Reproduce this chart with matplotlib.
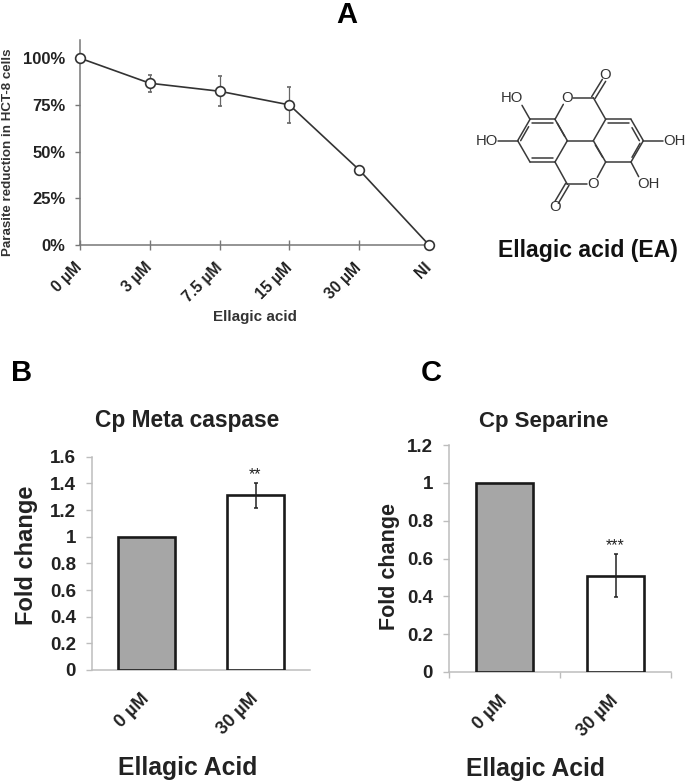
import matplotlib
matplotlib.use('Agg')
from matplotlib import pyplot as plt
from matplotlib.ticker import FixedLocator

plt.rcParams['font.family'] = ['Liberation Sans', 'DejaVu Sans']
plt.rcParams['font.weight'] = 'bold'
plt.rcParams['text.color'] = '#222222'

W, H = 685, 782

# panel A
doses = ['0 µM', '3 µM', '7.5 µM', '15 µM', '30 µM', 'NI']
reduction = [100, 86.6, 82.3, 75, 40.2, 0]
reduction_err = [0, 4.5, 8, 9.5, 0, 0]
pct_ticks = [0, 25, 50, 75, 100]
pct_labels = ['0%', '25%', '50%', '75%', '100%']

# panel B
bar_labels = ['0 µM', '30 µM']
caspase = [1, 1.31]
caspase_err = [0, 0.095]
caspase_ticks = [0, 0.2, 0.4, 0.6, 0.8, 1, 1.2, 1.4, 1.6]
caspase_ticklabels = ['0', '0.2', '0.4', '0.6', '0.8', '1', '1.2', '1.4', '1.6']

# panel C
separine = [1, 0.51]
separine_err = [0, 0.113]
separine_ticks = [0, 0.2, 0.4, 0.6, 0.8, 1, 1.2]
separine_ticklabels = ['0', '0.2', '0.4', '0.6', '0.8', '1', '1.2']


def px_axes(fig, left, top, right, bottom):
    # axes box given in image pixels
    return fig.add_axes([left / W, 1 - bottom / H, (right - left) / W, (bottom - top) / H])


def clean(ax, color):
    ax.patch.set_alpha(0)
    ax.spines['top'].set_visible(False)
    ax.spines['right'].set_visible(False)
    ax.spines['left'].set_color(color)
    ax.spines['bottom'].set_color(color)
    ax.spines['left'].set_linewidth(1.1)
    ax.spines['bottom'].set_linewidth(1.1)


fig = plt.figure(figsize=(W / 100, H / 100), dpi=100)

# molecule drawing, coordinates in image pixels
mol = fig.add_axes([0, 0, 1, 1])
mol.set_xlim(0, W)
mol.set_ylim(H, 0)
mol.axis('off')


def p(x, y):
    return 450 + x / 3, 60 + y / 3


bonds = [
    ((240, 178), (315, 178)), ((315, 178), (352, 242)), ((352, 242), (315, 306)),
    ((315, 306), (240, 306)), ((240, 306), (203, 242)), ((203, 242), (240, 178)),
    ((430, 242), (467, 178)), ((467, 178), (543, 178)), ((543, 178), (580, 242)),
    ((580, 242), (543, 306)), ((543, 306), (467, 306)), ((467, 306), (430, 242)),
    ((352, 242), (430, 242)),
    ((315, 178), (340, 133)), ((368, 113), (430, 113)), ((430, 113), (467, 178)),
    ((467, 306), (442, 352)), ((412, 373), (352, 373)), ((352, 373), (315, 306)),
    ((240, 178), (216, 136)), ((203, 242), (145, 242)),
    ((580, 242), (638, 242)), ((543, 306), (566, 350)),
    # inner lines of the double bonds
    ((246, 190), (309, 190)), ((322, 190), (344, 229)), ((212, 242), (236, 200)),
    ((246, 294), (309, 294)),
    ((473, 190), (537, 190)), ((568, 242), (546, 203)), ((458, 292), (436, 255)),
    ((546, 292), (570, 250)),
    # carbonyls
    ((425, 110), (457, 58)), ((435, 116), (467, 64)),
    ((347, 370), (315, 424)), ((357, 376), (325, 430)),
]
for a, b in bonds:
    xa, ya = p(*a)
    xb, yb = p(*b)
    mol.plot([xa, xb], [ya, yb], color='#3a3a3a', lw=1.1, solid_capstyle='round')

atoms = [
    ('O', 352, 113), ('O', 428, 373), ('O', 466, 46), ('O', 315, 440),
    ('HO', 186, 113), ('HO', 110, 242), ('OH', 672, 242), ('OH', 596, 373),
]
for s, x, y in atoms:
    tx, ty = p(x, y)
    mol.text(tx, ty, s, ha='center', va='center', fontsize=10.7, fontweight='normal', color='#333333')

mol.text(588, 250, 'Ellagic acid (EA)', ha='center', va='center', fontsize=16.6, color='#111111')

# A
ax = px_axes(fig, 80, 39.5, 429, 245)
clean(ax, '#777777')
ax.errorbar(range(len(doses)), reduction, yerr=reduction_err, color='#333333', lw=1.2,
            marker='o', ms=7, mfc='white', mec='#333333', mew=1.2,
            ecolor='#666666', elinewidth=0.9, capsize=1.5, clip_on=False, zorder=3)
ax.set_xlim(0, 5)
ax.set_ylim(0, 110)
ax.set_yticks(pct_ticks)
ax.set_yticklabels(pct_labels, fontsize=12, color='#222222')
ax.tick_params(axis='y', length=3.6, width=1, color='#777777', pad=7)
ax.set_xticks(range(len(doses)))
ax.set_xticklabels(doses, fontsize=11.3, rotation=45, ha='right', va='center', rotation_mode='anchor', color='#222222')
ax.tick_params(axis='x', direction='inout', length=7, width=1, color='#777777', pad=11)
mol.text(255, 316.5, 'Ellagic acid', ha='center', va='center', fontsize=10.9, color='#333333')
mol.text(8, 152, 'Parasite reduction in HCT-8 cells', rotation=90, ha='center', va='center',
         fontsize=9.6, color='#333333')

# B
ax = px_axes(fig, 92, 456.7, 310, 670)
clean(ax, '#bdbdbd')
ax.bar([0, 1], caspase, width=0.52, color=['#a6a6a6', 'white'], edgecolor='#1a1a1a', linewidth=1.9, zorder=3)
ax.errorbar([1], caspase[1:], yerr=caspase_err[1:], color='#222222', elinewidth=1.1, capsize=1.5, capthick=1.1, zorder=4)
ax.set_xlim(-0.5, 1.5)
ax.set_ylim(0, 1.6)
ax.set_yticks(caspase_ticks)
ax.set_yticklabels(caspase_ticklabels, fontsize=13.5, color='#222222')
ax.tick_params(axis='y', length=4, width=1, color='#bdbdbd', pad=7.5)
ax.set_xticks([0, 1])
ax.set_xticklabels(bar_labels, fontsize=13, rotation=45, ha='right', va='center', rotation_mode='anchor', color='#222222')
ax.tick_params(axis='x', length=0, pad=19)
ax.text(1, 1.463, '**', ha='center', va='center', fontsize=11.5, fontweight='normal')
mol.text(187, 420.5, 'Cp Meta caspase', ha='center', va='center', fontsize=16.4)
mol.text(27, 555, 'Fold change', rotation=90, ha='center', va='center', fontsize=17)
mol.text(188, 768, 'Ellagic Acid', ha='center', va='center', fontsize=17.8)

# C
ax = px_axes(fig, 449, 445, 671, 672)
clean(ax, '#bdbdbd')
ax.bar([0, 1], separine, width=0.52, color=['#a6a6a6', 'white'], edgecolor='#1a1a1a', linewidth=1.9, zorder=3)
ax.errorbar([1], separine[1:], yerr=separine_err[1:], color='#222222', elinewidth=1.1, capsize=1.5, capthick=1.1, zorder=4)
ax.set_xlim(-0.5, 1.5)
ax.set_ylim(0, 1.2)
ax.set_yticks(separine_ticks)
ax.set_yticklabels(separine_ticklabels, fontsize=13.5, color='#222222')
ax.tick_params(axis='y', length=4, width=1, color='#bdbdbd', pad=7.5)
ax.set_xticks([0, 1])
ax.set_xticklabels(bar_labels, fontsize=13, rotation=45, ha='right', va='center', rotation_mode='anchor', color='#222222')
ax.tick_params(axis='x', length=0, pad=19)
ax.xaxis.set_minor_locator(FixedLocator([-0.5, 0.5, 1.5]))
ax.tick_params(axis='x', which='minor', length=4, width=1, color='#bdbdbd')
ax.text(1, 0.668, '***', ha='center', va='center', fontsize=11.5, fontweight='normal')
mol.text(544, 421, 'Cp Separine', ha='center', va='center', fontsize=16)
mol.text(390, 567, 'Fold change', rotation=90, ha='center', va='center', fontsize=15.5)
mol.text(535, 769, 'Ellagic Acid', ha='center', va='center', fontsize=17.7)

# panel letters
mol.text(347, 15, 'A', ha='center', va='center', fontsize=21, color='black')
mol.text(22, 373, 'B', ha='center', va='center', fontsize=21, color='black')
mol.text(431, 373, 'C', ha='center', va='center', fontsize=21, color='black')

fig.savefig('out.png', dpi=100)
